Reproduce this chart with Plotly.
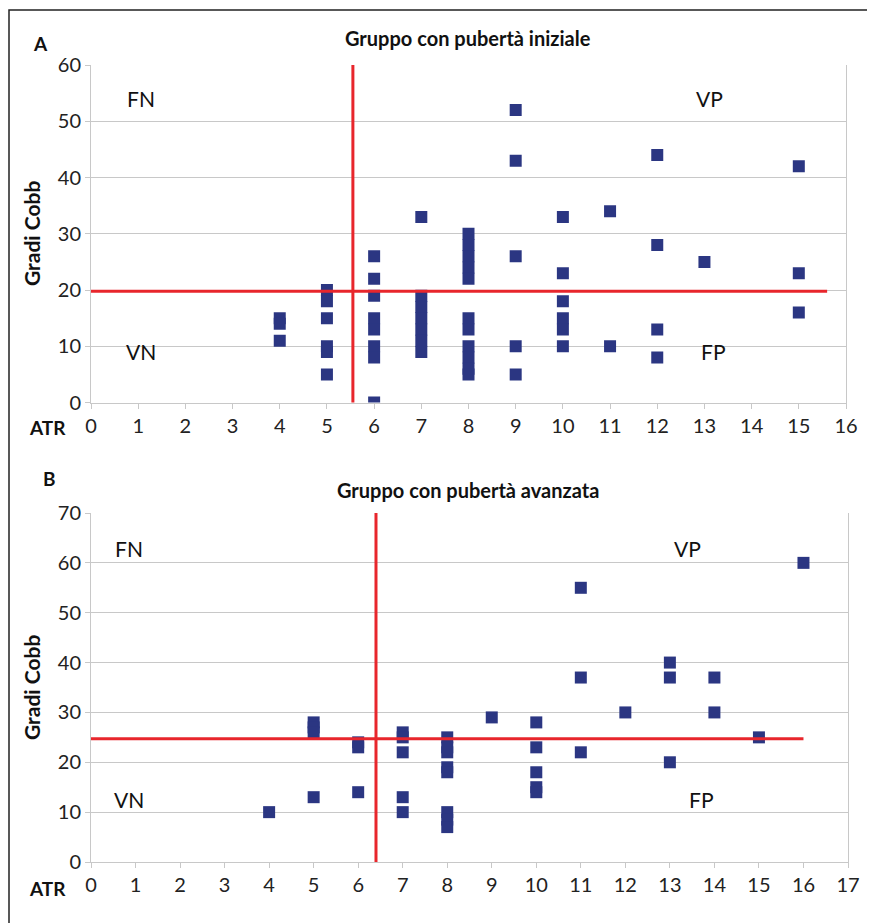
import plotly.graph_objects as go

W, H = 875, 923
OFF = 8  # page body margin of the rendered html

# ---- Data: panel A (Gruppo con pubertà iniziale) ----
atr_a = [4, 4, 4,
         5, 5, 5, 5, 5, 5,
         6, 6, 6, 6, 6, 6, 6, 6,
         7, 7, 7, 7, 7, 7, 7,
         8, 8, 8, 8, 8, 8, 8, 8, 8, 8, 8,
         9, 9, 9, 9, 9,
         10, 10, 10, 10, 10, 10,
         11, 11,
         12, 12, 12, 12,
         13,
         15, 15, 15]
cobb_a = [15, 14, 11,
          20, 18, 15, 10, 9, 5,
          26, 22, 19, 15, 13, 10, 8, 0,
          33, 19, 17, 15, 13, 11, 9,
          30, 28, 26, 24, 22, 15, 13, 10, 8, 6, 5,
          52, 43, 26, 10, 5,
          33, 23, 18, 15, 13, 10,
          34, 10,
          44, 28, 13, 8,
          25,
          42, 23, 16]

# ---- Data: panel B (Gruppo con pubertà avanzata) ----
atr_b = [4,
         5, 5, 5, 5,
         6, 6, 6,
         7, 7, 7, 7, 7,
         8, 8, 8, 8, 8, 8, 8, 8,
         9,
         10, 10, 10, 10, 10,
         11, 11, 11,
         12,
         13, 13, 13,
         14, 14,
         15,
         16]
cobb_b = [10,
          28, 27, 26, 13,
          24, 23, 14,
          26, 25, 22, 13, 10,
          25, 23, 22, 19, 18, 10, 8.5, 7,
          29,
          28, 23, 18, 15, 14,
          55, 37, 22,
          30,
          40, 37, 20,
          37, 30,
          25,
          60]

# cut-off lines
cut_a_x, cut_a_y = 5.55, 19.8
cut_b_x, cut_b_y = 6.4, 24.7

quad_a = [("FN", 1.05, 54), ("VP", 13.1, 54), ("VN", 1.05, 9), ("FP", 13.2, 9)]
quad_b = [("FN", 0.85, 62.9), ("VP", 13.4, 62.9), ("VN", 0.85, 12.5), ("FP", 13.7, 12.5)]

MARK = "#2B3682"
RED = "#E8262C"
GRID = "#C8C8C8"
TXT = "#222222"
FONT = "Lato"

def px(x):
    return (x - OFF) / W

def py(y):
    return 1 - (y - OFF) / H

fig = go.Figure()
fig.add_trace(go.Scatter(x=atr_a, y=cobb_a, mode="markers", xaxis="x", yaxis="y",
                         marker=dict(symbol="square", size=12, color=MARK, line=dict(width=0)),
                         showlegend=False))
fig.add_trace(go.Scatter(x=atr_b, y=cobb_b, mode="markers", xaxis="x2", yaxis="y2",
                         marker=dict(symbol="square", size=12, color=MARK, line=dict(width=0)),
                         showlegend=False))

def xax(domain, rng, anchor):
    return dict(domain=domain, range=rng, anchor=anchor, dtick=1, tick0=0, automargin=False,
                showgrid=False, zeroline=False, showline=True, linecolor=GRID, linewidth=1,
                ticks="outside", ticklen=5, tickcolor=GRID, ticklabelstandoff=0,
                tickfont=dict(family=FONT, size=20, color=TXT))

def yax(domain, rng, anchor, dt):
    return dict(domain=domain, range=rng, anchor=anchor, dtick=dt, tick0=0, automargin=False,
                showgrid=True, gridcolor=GRID, gridwidth=1, zeroline=False,
                showline=True, mirror=True, linecolor=GRID, linewidth=1,
                ticks="outside", ticklen=5, tickcolor=GRID, ticklabelstandoff=0,
                tickfont=dict(family=FONT, size=20, color=TXT))

shapes = [
    # outer frame
    dict(type="rect", xref="paper", yref="paper", x0=px(9), x1=1.05, y0=-0.05, y1=py(10),
         line=dict(color="#222222", width=1.5), fillcolor="rgba(0,0,0,0)", layer="below"),
    # panel A cut-offs
    dict(type="line", xref="x", yref="y", x0=cut_a_x, x1=cut_a_x, y0=-2.8, y1=60.6,
         line=dict(color=RED, width=3)),
    dict(type="line", xref="x", yref="y", x0=-0.15, x1=15.6, y0=cut_a_y, y1=cut_a_y,
         line=dict(color=RED, width=3)),
    # panel B cut-offs
    dict(type="line", xref="x2", yref="y2", x0=cut_b_x, x1=cut_b_x, y0=-0.3, y1=70.4,
         line=dict(color=RED, width=3)),
    dict(type="line", xref="x2", yref="y2", x0=-0.2, x1=16.0, y0=cut_b_y, y1=cut_b_y,
         line=dict(color=RED, width=3)),
]

ann = []
def label(text, x, y, size, bold=True, angle=0):
    ann.append(dict(text=f"<b>{text}</b>" if bold else text, x=px(x), y=py(y),
                    xref="paper", yref="paper", showarrow=False, textangle=angle,
                    xanchor="center", yanchor="middle",
                    font=dict(family=FONT, size=size, color="#111111")))

label("A", 40, 43, 19)
label("B", 49, 478, 19)
label("Gruppo con pubertà iniziale", 468, 38, 20)
label("Gruppo con pubertà avanzata", 468, 490, 20)
label("Gradi Cobb", 31, 234, 21, angle=-90)
label("Gradi Cobb", 31, 688, 21, angle=-90)
label("ATR", 47, 427, 19)
label("ATR", 47, 888, 19)

for t, x, y in quad_a:
    ann.append(dict(text=t, x=x, y=y, xref="x", yref="y", showarrow=False,
                    font=dict(family=FONT, size=21, color="#111111")))
for t, x, y in quad_b:
    ann.append(dict(text=t, x=x, y=y, xref="x2", yref="y2", showarrow=False,
                    font=dict(family=FONT, size=21, color="#111111")))

fig.update_layout(
    template="none",
    width=W, height=H, autosize=False,
    margin=dict(l=0, r=0, t=0, b=0, pad=0, autoexpand=False),
    paper_bgcolor="white", plot_bgcolor="white",
    xaxis=xax([px(91), px(846)], [0, 16], "y"),
    yaxis=yax([py(402.5), py(65)], [0, 60], "x", 10),
    xaxis2=xax([px(91), px(848)], [0, 17], "y2"),
    yaxis2=yax([py(862), py(513)], [0, 70], "x2", 10),
    shapes=shapes, annotations=ann,
)

fig.write_html("out.html")
